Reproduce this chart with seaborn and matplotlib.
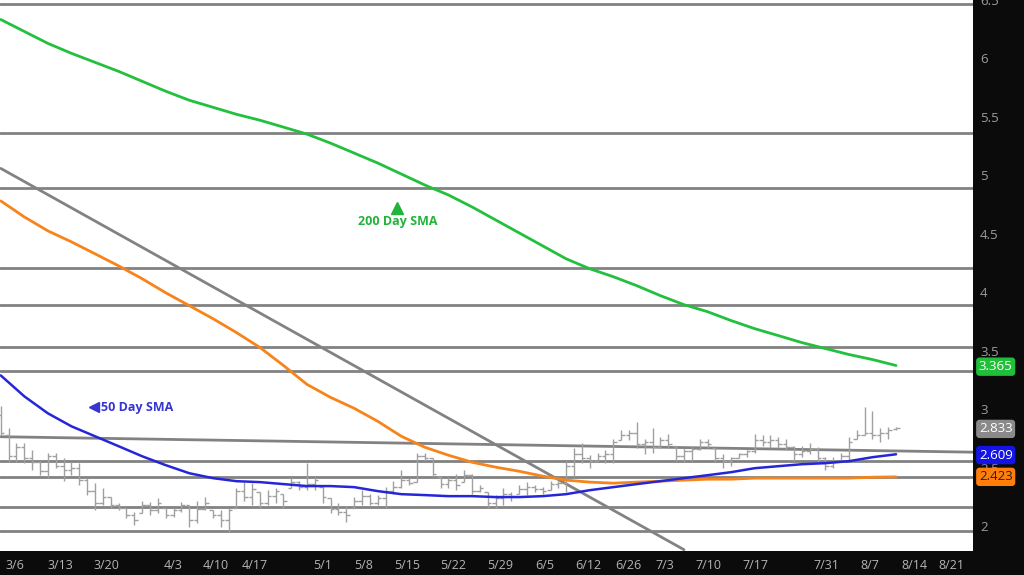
import numpy as np
import pandas as pd
import seaborn as sns
import matplotlib.pyplot as plt
import matplotlib.transforms as mtransforms

# daily bars, one per trading day from 3/6 to 8/11
highs = [3.03, 2.84, 2.71, 2.71, 2.65, 2.56, 2.63, 2.63, 2.58, 2.55,
         2.54, 2.41, 2.37, 2.33, 2.25, 2.20, 2.16, 2.12, 2.22, 2.21,
         2.24, 2.16, 2.16, 2.21, 2.18, 2.22, 2.25, 2.14, 2.14, 2.16,
         2.33, 2.38, 2.37, 2.29, 2.31, 2.33, 2.28, 2.41, 2.39, 2.54,
         2.42, 2.34, 2.24, 2.20, 2.17, 2.25, 2.31, 2.28, 2.27, 2.34,
         2.39, 2.48, 2.41, 2.63, 2.63, 2.58, 2.42, 2.42, 2.45, 2.48,
         2.45, 2.35, 2.29, 2.27, 2.33, 2.29, 2.35, 2.38, 2.35, 2.34,
         2.39, 2.39, 2.56, 2.67, 2.71, 2.61, 2.63, 2.65, 2.75, 2.82,
         2.82, 2.89, 2.75, 2.84, 2.76, 2.79, 2.69, 2.67, 2.69, 2.75,
         2.75, 2.67, 2.62, 2.59, 2.63, 2.65, 2.79, 2.78, 2.78, 2.76,
         2.75, 2.69, 2.69, 2.71, 2.68, 2.59, 2.59, 2.63, 2.76, 2.82,
         3.02, 2.99, 2.84, 2.85, 2.85]
lows = [2.78, 2.55, 2.55, 2.54, 2.48, 2.44, 2.41, 2.50, 2.39, 2.44,
        2.35, 2.27, 2.14, 2.18, 2.16, 2.14, 2.07, 2.01, 2.11, 2.10,
        2.11, 2.07, 2.08, 2.12, 1.99, 2.03, 2.14, 2.07, 1.99, 1.95,
        2.16, 2.22, 2.18, 2.16, 2.18, 2.20, 2.16, 2.33, 2.31, 2.31,
        2.31, 2.20, 2.11, 2.10, 2.04, 2.16, 2.18, 2.18, 2.18, 2.16,
        2.28, 2.33, 2.35, 2.38, 2.56, 2.42, 2.33, 2.33, 2.31, 2.38,
        2.28, 2.29, 2.16, 2.16, 2.18, 2.22, 2.28, 2.27, 2.29, 2.28,
        2.31, 2.33, 2.29, 2.42, 2.54, 2.50, 2.56, 2.54, 2.54, 2.74,
        2.74, 2.67, 2.62, 2.63, 2.67, 2.67, 2.56, 2.55, 2.56, 2.65,
        2.67, 2.55, 2.50, 2.52, 2.58, 2.59, 2.63, 2.69, 2.67, 2.67,
        2.65, 2.56, 2.59, 2.62, 2.54, 2.48, 2.50, 2.56, 2.56, 2.75,
        2.78, 2.75, 2.72, 2.75, 2.82]
opens = [2.95, 2.78, 2.60, 2.68, 2.58, 2.55, 2.47, 2.60, 2.52, 2.48,
         2.50, 2.40, 2.30, 2.20, 2.25, 2.18, 2.16, 2.10, 2.11, 2.18,
         2.14, 2.16, 2.10, 2.14, 2.18, 2.05, 2.15, 2.14, 2.10, 2.05,
         2.16, 2.30, 2.25, 2.29, 2.20, 2.26, 2.28, 2.33, 2.38, 2.34,
         2.36, 2.34, 2.24, 2.15, 2.12, 2.16, 2.22, 2.26, 2.20, 2.24,
         2.30, 2.34, 2.40, 2.38, 2.60, 2.58, 2.42, 2.36, 2.40, 2.38,
         2.44, 2.30, 2.29, 2.20, 2.24, 2.28, 2.28, 2.32, 2.34, 2.32,
         2.31, 2.36, 2.37, 2.52, 2.62, 2.58, 2.56, 2.60, 2.62, 2.74,
         2.78, 2.80, 2.70, 2.72, 2.68, 2.74, 2.69, 2.60, 2.64, 2.66,
         2.72, 2.67, 2.58, 2.56, 2.58, 2.62, 2.64, 2.74, 2.72, 2.74,
         2.70, 2.68, 2.62, 2.64, 2.66, 2.58, 2.52, 2.56, 2.60, 2.75,
         2.78, 2.80, 2.78, 2.80, 2.83]
closes = [2.80, 2.60, 2.68, 2.58, 2.55, 2.47, 2.60, 2.52, 2.48, 2.50,
          2.40, 2.30, 2.20, 2.25, 2.18, 2.16, 2.10, 2.05, 2.18, 2.14,
          2.20, 2.10, 2.14, 2.18, 2.05, 2.15, 2.20, 2.10, 2.05, 2.14,
          2.30, 2.25, 2.32, 2.20, 2.26, 2.30, 2.22, 2.38, 2.34, 2.36,
          2.40, 2.25, 2.15, 2.12, 2.10, 2.22, 2.26, 2.20, 2.24, 2.30,
          2.34, 2.40, 2.37, 2.60, 2.58, 2.45, 2.36, 2.40, 2.35, 2.44,
          2.30, 2.33, 2.20, 2.24, 2.28, 2.26, 2.32, 2.34, 2.32, 2.30,
          2.36, 2.37, 2.52, 2.62, 2.58, 2.56, 2.60, 2.62, 2.72, 2.78,
          2.80, 2.70, 2.72, 2.68, 2.74, 2.70, 2.60, 2.64, 2.66, 2.72,
          2.70, 2.58, 2.56, 2.58, 2.62, 2.64, 2.74, 2.72, 2.74, 2.70,
          2.68, 2.62, 2.64, 2.66, 2.58, 2.52, 2.55, 2.60, 2.72, 2.78,
          2.80, 2.78, 2.80, 2.82, 2.84]

# moving averages read every 3 bars (bar index 0..114)
sma_idx = list(range(0, 115, 3))
sma200 = [6.333, 6.231, 6.129, 6.044, 5.967, 5.890, 5.805, 5.720, 5.643, 5.583,
          5.523, 5.472, 5.413, 5.353, 5.276, 5.191, 5.106, 5.012, 4.918, 4.833,
          4.731, 4.620, 4.509, 4.398, 4.287, 4.202, 4.134, 4.057, 3.972, 3.895,
          3.835, 3.759, 3.690, 3.631, 3.571, 3.520, 3.469, 3.426, 3.375]
sma100 = [4.782, 4.645, 4.526, 4.432, 4.330, 4.227, 4.117, 3.997, 3.887, 3.776,
          3.657, 3.529, 3.375, 3.213, 3.102, 3.009, 2.898, 2.770, 2.676, 2.608,
          2.548, 2.506, 2.471, 2.429, 2.395, 2.378, 2.369, 2.378, 2.386, 2.395,
          2.403, 2.403, 2.412, 2.412, 2.412, 2.412, 2.412, 2.420, 2.423]
sma50 = [3.290, 3.111, 2.966, 2.855, 2.770, 2.685, 2.599, 2.523, 2.454, 2.412,
         2.386, 2.378, 2.361, 2.344, 2.344, 2.335, 2.301, 2.275, 2.267, 2.258,
         2.258, 2.250, 2.250, 2.258, 2.275, 2.309, 2.335, 2.361, 2.386, 2.412,
         2.437, 2.463, 2.497, 2.514, 2.531, 2.540, 2.557, 2.591, 2.616]

# support / resistance levels and trend lines
levels = [6.47, 5.36, 4.89, 4.21, 3.895, 3.53, 3.33, 2.559, 2.423, 2.167, 1.963]
trend_down = ([0, 87], [5.06, 1.80])
trend_flat = ([0, 123.8], [2.766, 2.634])

tick_pos = [1.8, 7.6, 13.4, 21.9, 27.4, 32.4, 41.0, 46.2, 51.7, 57.6, 63.6,
            69.3, 74.8, 79.9, 84.5, 90.1, 96.1, 105.1, 110.7, 116.3, 121.1]
tick_labels = ["3/6", "3/13", "3/20", "4/3", "4/10", "4/17", "5/1", "5/8", "5/15",
               "5/22", "5/29", "6/5", "6/12", "6/26", "7/3", "7/10", "7/17",
               "7/31", "8/7", "8/14", "8/21"]

value_tags = [(3.365, "3.365", "#1fbf3a", "white"),
              (2.833, "2.833", "#8a8a8a", "white"),
              (2.609, "2.609", "#1414e6", "white"),
              (2.423, "2.423", "#ff7f0a", "#222222")]

sns.set_style("white")
plt.rcParams["font.family"] = ["Open Sans", "DejaVu Sans"]

fig = plt.figure(figsize=(10.24, 5.75), dpi=100, facecolor="#0b0b0b")
ax = fig.add_axes([0, 24 / 575, 973 / 1024, 551 / 575])
ax.set_facecolor("white")

n = len(highs)
bars = pd.DataFrame({"i": np.arange(n), "high": highs, "low": lows,
                     "open": opens, "close": closes})
sma = pd.DataFrame({"i": sma_idx, "sma200": sma200, "sma100": sma100, "sma50": sma50})

for y in levels:
    ax.axhline(y, color="#828282", lw=2, zorder=1)
ax.plot(*trend_flat, color="#828282", lw=2, zorder=1)
ax.plot(*trend_down, color="#828282", lw=2, zorder=1)

bar_col = "#a0a0a0"
ax.vlines(bars["i"], bars["low"], bars["high"], color=bar_col, lw=1, zorder=2)
ax.hlines(bars["open"], bars["i"] - 0.45, bars["i"], color=bar_col, lw=1, zorder=2)
ax.hlines(bars["close"], bars["i"], bars["i"] + 0.45, color=bar_col, lw=1, zorder=2)

sns.lineplot(data=sma, x="i", y="sma200", ax=ax, color="#22c03c", lw=2, zorder=3)
sns.lineplot(data=sma, x="i", y="sma100", ax=ax, color="#f7841a", lw=2, zorder=3)
sns.lineplot(data=sma, x="i", y="sma50", ax=ax, color="#2626d9", lw=1.8, zorder=3)

ax.text(50.5, 4.61, "200 Day SMA", color="#22b43a", fontsize=9, fontweight="bold",
        ha="center", va="center")
ax.plot(50.5, 4.72, marker="^", color="#22b43a", ms=8, zorder=4)
ax.text(12.7, 3.02, "50 Day SMA", color="#3535d0", fontsize=9, fontweight="bold",
        ha="left", va="center")
ax.plot(11.9, 3.02, marker="<", color="#3535d0", ms=6.5, zorder=4)

ax.set_xlim(-0.1, 123.8)
ax.set_ylim(1.789, 6.487)
ax.set_xlabel("")
ax.set_ylabel("")
for s in ax.spines.values():
    s.set_visible(False)

ax.yaxis.tick_right()
ax.set_yticks([2, 2.5, 3, 3.5, 4, 4.5, 5, 5.5, 6, 6.5],
              ["2", "2.5", "3", "3.5", "4", "4.5", "5", "5.5", "6", "6.5"])
ax.tick_params(axis="y", length=0, pad=5, labelsize=9.5, labelcolor="#9c9c9c")
ax.set_xticks(tick_pos, tick_labels)
ax.tick_params(axis="x", length=0, pad=6, labelsize=9, labelcolor="#b4b4b4")

trans = mtransforms.blended_transform_factory(ax.transAxes, ax.transData)
for val, txt, bg, fg in value_tags:
    ax.text(1.006, val, txt, transform=trans, color=fg, fontsize=9.5, ha="left",
            va="center", clip_on=False, zorder=5,
            bbox=dict(boxstyle="round,pad=0.15,rounding_size=0.2", fc=bg, ec=bg))

fig.savefig("out.png", dpi=100, facecolor=fig.get_facecolor())
